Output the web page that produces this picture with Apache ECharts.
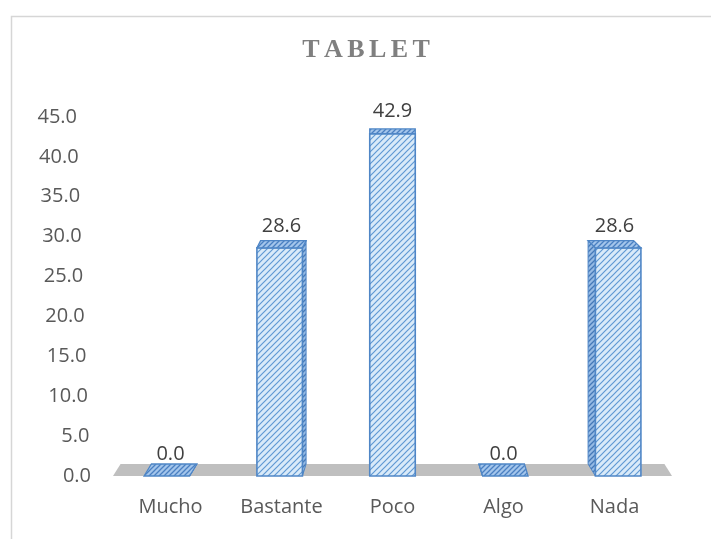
<!DOCTYPE html>
<html>
<head>
<meta charset="utf-8">
<script src="https://cdn.jsdelivr.net/npm/echarts@6/dist/echarts.min.js"></script>
<style>
html,body{margin:0;padding:0;background:#fff;}
#c{width:711px;height:539px;}
</style>
</head>
<body>
<div id="c"></div>
<script>
// ---- data ----
const titleText = 'TABLET';
const categories = ['Mucho', 'Bastante', 'Poco', 'Algo', 'Nada'];
const values = [0.0, 28.6, 42.9, 0.0, 28.6];
const yMin = 0;
const yMax = 45;
const yInterval = 5;

// ---- hatch patterns ----
function hatch(bg, line, size, lw) {
  const c = document.createElement('canvas');
  c.width = size; c.height = size;
  const g = c.getContext('2d');
  g.fillStyle = bg; g.fillRect(0, 0, size, size);
  g.strokeStyle = line; g.lineWidth = lw;
  g.beginPath();
  g.moveTo(-1, size + 1); g.lineTo(size + 1, -1);
  g.moveTo(-1, 1); g.lineTo(1, -1);
  g.moveTo(size - 1, size + 1); g.lineTo(size + 1, size - 1);
  g.stroke();
  return { image: c, repeat: 'repeat' };
}
const frontPat = hatch('#d9eaf9', '#5f98d3', 6, 1.2);
const topPat = hatch('#a3c5eb', '#4a80c2', 5, 1.3);
const sidePat = hatch('#95bae4', '#4579b8', 5, 1.3);

const chart = echarts.init(document.getElementById('c'), null, { renderer: 'canvas' });

const titleRich = titleText.split('').map(ch => '{t|' + ch + '}').join('');

function floorItem(params, api) {
  const cs = params.coordSys;
  const base = api.coord([0, 0]);
  const cx = cs.x + cs.width / 2;
  const by = base[1];
  const l = cs.x - 2, r = cs.x + cs.width + 2;
  const k = 0.027, d = 12;
  return {
    type: 'polygon',
    shape: { points: [[l, by], [r, by], [r + (cx - r) * k, by - d], [l + (cx - l) * k, by - d]] },
    style: { fill: '#bfbfbf' },
    z2: 0
  };
}

function barItem(params, api) {
  const cs = params.coordSys;
  const i = api.value(0), v = api.value(1);
  const base = api.coord([i, 0]);
  const top = api.coord([i, v]);
  const band = api.size([1, 0])[0];
  const w = band * 0.41;
  const cx = cs.x + cs.width / 2;
  const dx = (cx - base[0]) * 0.033;
  const dyt = 12 - 7.5 * (v / yMax);
  const by = base[1], ty = top[1];
  const x0 = base[0] - w / 2 - dx / 2, x1 = x0 + w;
  const stroke = '#4f86c6';
  const children = [];
  if (dx > 0.5) {
    children.push({
      type: 'polygon',
      shape: { points: [[x1, ty], [x1 + dx, ty - dyt], [x1 + dx, by - 12], [x1, by]] },
      style: { fill: sidePat, stroke: stroke, lineWidth: 1 }
    });
  } else if (dx < -0.5) {
    children.push({
      type: 'polygon',
      shape: { points: [[x0, ty], [x0 + dx, ty - dyt], [x0 + dx, by - 12], [x0, by]] },
      style: { fill: sidePat, stroke: stroke, lineWidth: 1 }
    });
  }
  if (by - ty > 0.5) {
    children.push({
      type: 'rect',
      shape: { x: x0, y: ty, width: w, height: by - ty },
      style: { fill: frontPat, stroke: stroke, lineWidth: 1.6 }
    });
  }
  children.push({
    type: 'polygon',
    shape: { points: [[x0, ty], [x1, ty], [x1 + dx, ty - dyt], [x0 + dx, ty - dyt]] },
    style: { fill: topPat, stroke: stroke, lineWidth: 1.3 }
  });
  children.push({
    type: 'text',
    style: {
      text: v.toFixed(1), x: base[0], y: ty - 22,
      textAlign: 'center', textVerticalAlign: 'middle',
      fontFamily: 'Open Sans', fontSize: 20, fill: '#404040'
    }
  });
  return { type: 'group', children: children };
}

const yRich = {};
for (let j = 0; j <= 9; j++) {
  yRich['y' + j] = { padding: [0, j * 1.55, 0, 0], fontFamily: 'Open Sans', fontSize: 20, color: '#595959' };
}

chart.setOption({
  animation: false,
  backgroundColor: '#ffffff',
  graphic: [
    {
      type: 'rect', z: -10, silent: true,
      shape: { x: 11.5, y: 16.5, width: 900, height: 700 },
      style: { fill: 'none', stroke: '#d6d6d6', lineWidth: 1.5 }
    },
    {
      type: 'text', z: 10,
      style: {
        text: titleRich, x: 366, y: 50, textAlign: 'center', textVerticalAlign: 'middle',
        rich: { t: { fontFamily: 'Liberation Serif', fontWeight: 'bold', fontSize: 26, fill: '#7f7f7f', padding: [0, 2.2, 0, 2.2] } }
      }
    }
  ],
  grid: { left: 115, right: 41, top: 117, bottom: 63, containLabel: false },
  xAxis: {
    type: 'category',
    data: categories,
    axisLine: { show: false },
    axisTick: { show: false },
    splitLine: { show: false },
    axisLabel: { margin: 21, fontFamily: 'Open Sans', fontSize: 20, color: '#595959' }
  },
  yAxis: {
    type: 'value',
    min: yMin, max: yMax, interval: yInterval,
    axisLine: { show: false },
    axisTick: { show: false },
    splitLine: { show: false },
    axisLabel: {
      margin: 24,
      formatter: function (val, idx) { return '{y' + idx + '|' + val.toFixed(1) + '}'; },
      rich: yRich
    }
  },
  series: [
    {
      type: 'custom',
      renderItem: floorItem,
      data: [[0, 0]],
      encode: { x: 0, y: 1 },
      silent: true,
      z: 1
    },
    {
      type: 'custom',
      renderItem: barItem,
      data: values.map((v, i) => [i, v]),
      encode: { x: 0, y: 1 },
      z: 2
    }
  ]
});
</script>
</body>
</html>
